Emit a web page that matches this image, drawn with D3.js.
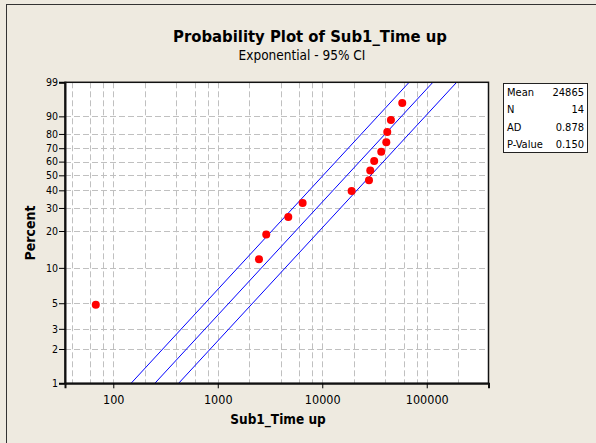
<!DOCTYPE html>
<html>
<head>
  <meta charset="utf-8">
  <title>Probability Plot of Sub1_Time up</title>
  <script src="https://d3js.org/d3.v7.min.js"></script>
  <style>
    body { margin: 0; background: #eeeae0; }
    svg { display: block; font-family: "DejaVu Sans Condensed", "DejaVu Sans", sans-serif; }
  </style>
</head>
<body>
  <div id="chart"></div>
  <script>
    const timeUp = [68, 2480, 2910, 4730, 6490, 19100, 28000, 28800, 31400, 36700, 41000, 41900, 45400, 58300];
    // plotting positions (percent) of each point
    const percents = [4.86, 11.81, 18.75, 25.69, 32.64, 39.58, 46.53, 53.47, 60.42, 67.36, 74.31, 81.25, 88.19, 95.14];
    // scale of the fitted line and of the 95% CI bounds
    const fitScales = [14725, 24865, 41985];
    const yTicks = [1, 2, 3, 5, 10, 20, 30, 40, 50, 60, 70, 80, 90, 99];
    const xTicks = [100, 1000, 10000, 100000];
    const xGrid = [40, 60, 80, 100, 200, 400, 600, 800, 1000, 2000, 4000, 6000, 8000, 10000,
                   20000, 40000, 60000, 80000, 100000, 200000];
    const statLabels = ["Mean", "N", "AD", "P-Value"];
    const statValues = ["24865", "14", "0.878", "0.150"];

    const W = 596, H = 443;
    const plot = { left: 65, right: 488.5, top: 82.3, bottom: 383.3 };

    const svg = d3.select("#chart").append("svg")
      .attr("width", W).attr("height", H);

    svg.append("rect")
      .attr("x", 6.5).attr("y", 4.5).attr("width", 600).attr("height", 450)
      .attr("fill", "#eeeae0").attr("stroke", "#333").attr("stroke-width", 1);

    // exponential probability transform
    const q = p => -Math.log(1 - p / 100);

    const x = d3.scaleLog().domain([34.5, 390000]).range([plot.left, plot.right]);
    const y = d3.scaleLog().domain([q(1), q(99)]).range([plot.bottom, plot.top]);

    svg.append("rect")
      .attr("x", plot.left).attr("y", plot.top)
      .attr("width", plot.right - plot.left).attr("height", plot.bottom - plot.top)
      .attr("fill", "#fff");

    // grid
    const grid = svg.append("g")
      .attr("stroke", "#c0c0c0").attr("stroke-dasharray", "6,3").attr("stroke-width", 1);
    grid.selectAll(".vg").data(xGrid).enter().append("line")
      .attr("x1", d => Math.round(x(d)) + 0.5).attr("x2", d => Math.round(x(d)) + 0.5)
      .attr("y1", plot.top).attr("y2", plot.bottom);
    grid.selectAll(".hg").data(yTicks.slice(1, -1)).enter().append("line")
      .attr("y1", d => Math.round(y(q(d))) + 0.5).attr("y2", d => Math.round(y(q(d))) + 0.5)
      .attr("x1", plot.left).attr("x2", plot.right);

    // fitted line and CI
    svg.append("clipPath").attr("id", "clip").append("rect")
      .attr("x", plot.left).attr("y", plot.top)
      .attr("width", plot.right - plot.left).attr("height", plot.bottom - plot.top);

    const line = d3.line().x(d => x(d[0])).y(d => y(d[1]));
    svg.append("g").attr("clip-path", "url(#clip)")
      .selectAll("path").data(fitScales).enter().append("path")
      .attr("d", s => line([1, 99].map(p => [s * q(p), q(p)])))
      .attr("fill", "none").attr("stroke", "#0000ff").attr("stroke-width", 1);

    // points
    svg.append("g").selectAll("circle").data(timeUp).enter().append("circle")
      .attr("cx", d => x(d))
      .attr("cy", (d, i) => y(q(percents[i])))
      .attr("r", 4)
      .attr("fill", "#ff0000");

    // frame
    svg.append("rect")
      .attr("x", plot.left).attr("y", plot.top)
      .attr("width", plot.right - plot.left).attr("height", plot.bottom - plot.top)
      .attr("fill", "none").attr("stroke", "#111").attr("stroke-width", 1.5);

    // axes
    const yAxis = d3.axisLeft(y)
      .tickValues(yTicks.map(q))
      .tickFormat((d, i) => yTicks[i])
      .tickSize(6).tickPadding(1);
    const gy = svg.append("g").attr("transform", `translate(${plot.left},0)`).call(yAxis);
    gy.select(".domain").attr("stroke", "#111").attr("stroke-width", 2);
    gy.selectAll("text").attr("font-size", 10.5).attr("fill", "#000")
      .attr("font-family", "DejaVu Sans Condensed, DejaVu Sans, sans-serif");

    const xAxis = d3.axisBottom(x)
      .tickValues(xTicks)
      .tickFormat(d3.format("d"))
      .tickSize(5).tickPadding(7);
    const gx = svg.append("g").attr("transform", `translate(0,${plot.bottom})`).call(xAxis);
    gx.select(".domain").attr("stroke", "#111").attr("stroke-width", 2);
    gx.selectAll("text").attr("font-size", 12.5).attr("fill", "#000")
      .attr("font-family", "DejaVu Sans Condensed, DejaVu Sans, sans-serif");

    // titles
    svg.append("text")
      .attr("x", 310).attr("y", 42).attr("text-anchor", "middle")
      .attr("font-size", 16.5).attr("font-weight", "bold")
      .text("Probability Plot of Sub1_Time up");
    svg.append("text")
      .attr("x", 302).attr("y", 60).attr("text-anchor", "middle")
      .attr("font-size", 13.5)
      .text("Exponential - 95% CI");
    svg.append("text")
      .attr("x", 278).attr("y", 424).attr("text-anchor", "middle")
      .attr("font-size", 13.5).attr("font-weight", "bold")
      .text("Sub1_Time up");
    svg.append("text")
      .attr("transform", "translate(35,233) rotate(-90)").attr("text-anchor", "middle")
      .attr("font-size", 14).attr("font-weight", "bold")
      .text("Percent");

    // stats box
    const box = svg.append("g").attr("transform", "translate(503,83)");
    box.append("rect").attr("x", 0.5).attr("y", 0.5).attr("width", 84).attr("height", 69)
      .attr("fill", "#fff").attr("stroke", "#222");
    box.selectAll(".lab").data(statLabels).enter().append("text")
      .attr("x", 4).attr("y", (d, i) => 12.5 + i * 17.5)
      .attr("font-size", 11).text(d => d);
    box.selectAll(".val").data(statValues).enter().append("text")
      .attr("x", 81).attr("y", (d, i) => 12.5 + i * 17.5).attr("text-anchor", "end")
      .attr("font-size", 11).text(d => d);
  </script>
</body>
</html>
